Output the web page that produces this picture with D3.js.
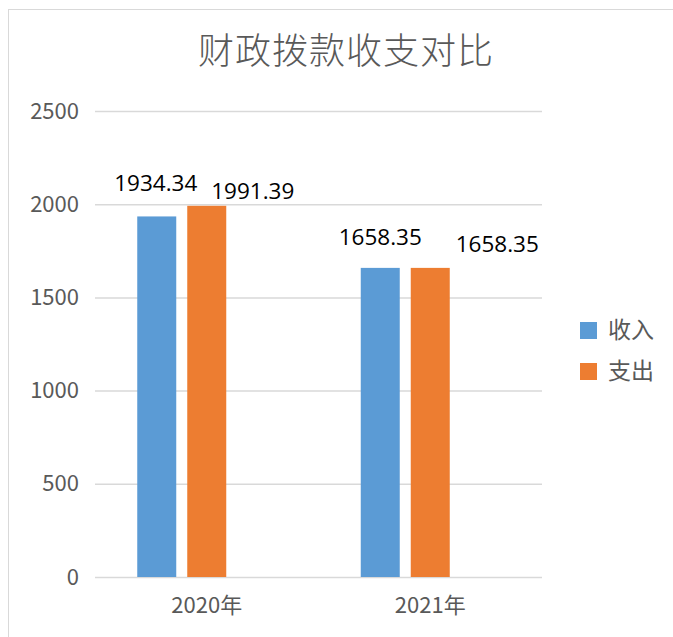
<!DOCTYPE html>
<html>
<head>
<meta charset="utf-8">
<script src="https://cdn.jsdelivr.net/npm/d3@7"></script>
<style>
  body { margin: 0; background: #fff; }
  svg { display: block; }
</style>
</head>
<body>
<div id="chart"></div>
<script>
const WIDTH = 673;
const HEIGHT = 637;

const title = "财政拨款收支对比";
const categories = ["2020年", "2021年"];
const series = ["收入", "支出"];
const income = [1934.34, 1658.35];
const expense = [1991.39, 1658.35];
const yTicks = [0, 500, 1000, 1500, 2000, 2500];
const colors = ["#5b9bd5", "#ed7d31"];

const CJK = "'Noto Sans CJK SC', 'Noto Sans', sans-serif";
const NARROW = "'Liberation Sans Narrow', 'Noto Sans CJK SC', sans-serif";
const NUM = "'Open Sans', 'Liberation Sans', sans-serif";

const svg = d3.select("#chart").append("svg")
  .attr("width", WIDTH)
  .attr("height", HEIGHT);

// chart frame (cut off on the right / bottom like the screenshot)
svg.append("rect")
  .attr("x", 8.5).attr("y", 9.5)
  .attr("width", 700).attr("height", 700)
  .attr("fill", "#fff")
  .attr("stroke", "#d9d9d9");

const plot = { left: 95, right: 542, top: 111, bottom: 577 };

const y = d3.scaleLinear().domain([0, 2500]).range([plot.bottom, plot.top]);
const x0 = d3.scaleBand().domain(categories).range([plot.left, plot.right]);
// third slot is an empty series in the source workbook, which pushes the bars left
const x1 = d3.scaleBand()
  .domain([...series, "_empty"])
  .range([0, x0.bandwidth()])
  .paddingInner(0.22)
  .paddingOuter(0.845);

svg.append("text")
  .attr("x", 346).attr("y", 64)
  .attr("text-anchor", "middle")
  .attr("font-family", CJK)
  .attr("font-weight", 300)
  .attr("font-size", 36)
  .attr("letter-spacing", 1)
  .attr("fill", "#595959")
  .text(title);

// gridlines + y labels
const yAxis = d3.axisLeft(y)
  .tickValues(yTicks)
  .tickFormat(d3.format("d"))
  .tickSize(-(plot.right - plot.left))
  .tickPadding(16);
const gy = svg.append("g").attr("transform", `translate(${plot.left},0)`).call(yAxis);
gy.select(".domain").remove();
gy.selectAll(".tick line").attr("stroke", "#d9d9d9").attr("stroke-width", 1.5);
gy.selectAll(".tick text")
  .attr("font-family", NARROW)
  .attr("font-size", 22)
  .attr("fill", "#595959");

// x labels
const xAxis = d3.axisBottom(x0).tickSize(0).tickPadding(20);
const gx = svg.append("g").attr("transform", `translate(0,${plot.bottom})`).call(xAxis);
gx.select(".domain").remove();
gx.selectAll(".tick text")
  .attr("font-family", NARROW)
  .attr("font-size", 22)
  .attr("fill", "#595959");

const rows = categories.map((c, i) => ({
  cat: c,
  values: [
    { key: series[0], value: income[i] },
    { key: series[1], value: expense[i] }
  ]
}));

// label nudges (labels were dragged in the source)
const labelShift = {
  "2020年": [[-1, -25], [46, -7]],
  "2021年": [[0, -23], [67, -16]]
};

const groups = svg.selectAll(".grp").data(rows).join("g")
  .attr("class", "grp")
  .attr("transform", d => `translate(${x0(d.cat)},0)`);

groups.selectAll("rect").data(d => d.values).join("rect")
  .attr("x", d => x1(d.key))
  .attr("width", x1.bandwidth())
  .attr("y", d => y(d.value))
  .attr("height", d => plot.bottom - y(d.value))
  .attr("fill", (d, i) => colors[i]);

groups.each(function(row) {
  d3.select(this).selectAll(".lbl").data(row.values).join("text")
    .attr("class", "lbl")
    .attr("x", (d, i) => x1(d.key) + x1.bandwidth() / 2 + labelShift[row.cat][i][0])
    .attr("y", (d, i) => y(d.value) + labelShift[row.cat][i][1])
    .attr("text-anchor", "middle")
    .attr("font-family", NUM)
    .attr("font-size", 22.5)
    .attr("fill", "#000")
    .text(d => d3.format(".2f")(d.value));
});

// legend
const legend = svg.selectAll(".leg").data(series).join("g")
  .attr("class", "leg")
  .attr("transform", (d, i) => `translate(580,${322 + i * 41})`);
legend.append("rect")
  .attr("width", 17).attr("height", 17)
  .attr("fill", (d, i) => colors[i]);
legend.append("text")
  .attr("x", 28).attr("y", 16)
  .attr("font-family", CJK)
  .attr("font-size", 23)
  .attr("fill", "#595959")
  .text(d => d);
</script>
</body>
</html>
